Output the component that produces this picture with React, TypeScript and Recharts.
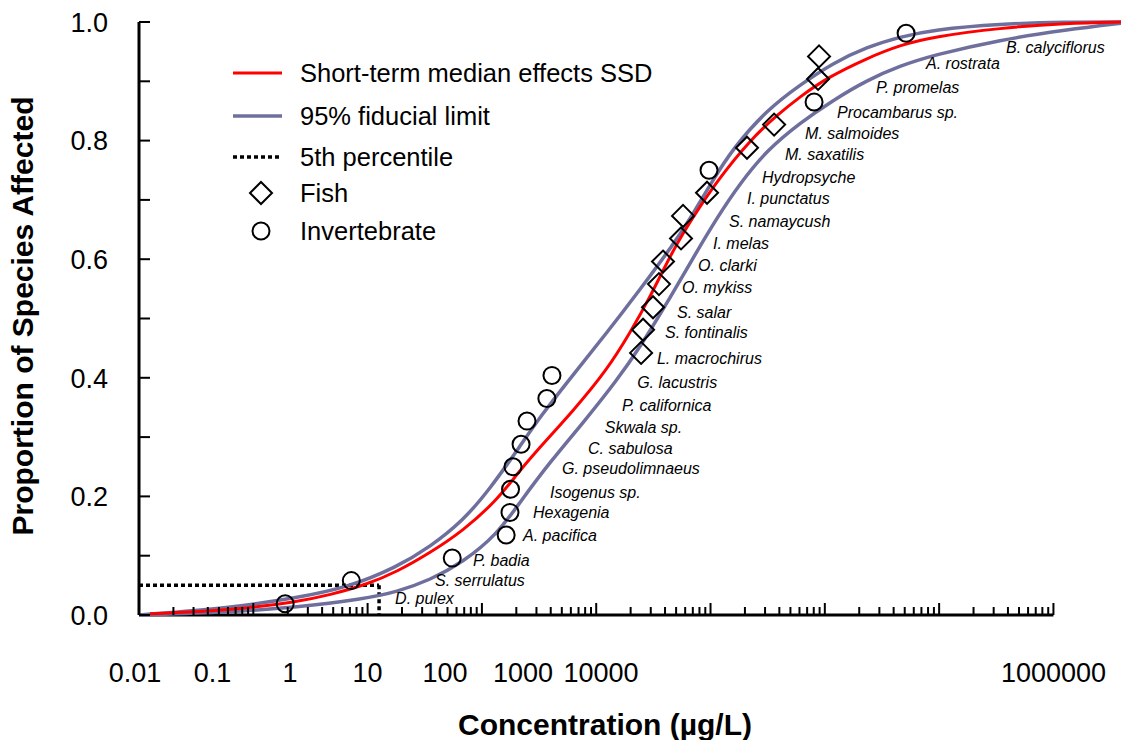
import React from 'react';
import {
  ComposedChart,
  Line,
  Scatter,
  XAxis,
  YAxis,
  ReferenceLine,
  Legend,
  Label,
} from 'recharts';

// ---- data (concentration in µg/L, proportion of species affected) ----
const medianCurve = [
  { conc: 0.0125, p: 0.002 }, { conc: 0.0625, p: 0.008 }, { conc: 0.241, p: 0.022 },
  { conc: 0.469, p: 0.034 }, { conc: 0.969, p: 0.051 }, { conc: 1.81, p: 0.073 },
  { conc: 3.52, p: 0.105 }, { conc: 6.84, p: 0.142 }, { conc: 13.6, p: 0.194 },
  { conc: 20.3, p: 0.238 }, { conc: 32.2, p: 0.283 }, { conc: 62.7, p: 0.344 },
  { conc: 124, p: 0.413 }, { conc: 198, p: 0.476 }, { conc: 296, p: 0.536 },
  { conc: 470, p: 0.616 }, { conc: 703, p: 0.671 }, { conc: 1140, p: 0.732 },
  { conc: 2218, p: 0.801 }, { conc: 3819, p: 0.843 }, { conc: 6067, p: 0.874 },
  { conc: 10450, p: 0.906 }, { conc: 23390, p: 0.939 }, { conc: 45500, p: 0.961 },
  { conc: 88500, p: 0.975 }, { conc: 341000, p: 0.99 }, { conc: 1315000, p: 0.998 },
  { conc: 3900000, p: 1.0 },
];

const upperLimit = [
  { conc: 0.01, p: 0 }, { conc: 0.0625, p: 0.012 }, { conc: 0.241, p: 0.029 },
  { conc: 0.661, p: 0.046 }, { conc: 1.81, p: 0.081 }, { conc: 3.52, p: 0.115 },
  { conc: 6.84, p: 0.159 }, { conc: 11.8, p: 0.213 }, { conc: 22.0, p: 0.287 },
  { conc: 32.2, p: 0.334 }, { conc: 62.7, p: 0.405 }, { conc: 124, p: 0.476 },
  { conc: 242, p: 0.549 }, { conc: 470, p: 0.624 }, { conc: 703, p: 0.676 },
  { conc: 1031, p: 0.731 }, { conc: 1574, p: 0.787 }, { conc: 3122, p: 0.852 },
  { conc: 6067, p: 0.894 }, { conc: 11800, p: 0.931 }, { conc: 23390, p: 0.958 },
  { conc: 45500, p: 0.975 }, { conc: 88500, p: 0.987 }, { conc: 341000, p: 0.997 },
  { conc: 1315000, p: 1.0 }, { conc: 3900000, p: 1.0 },
];

const lowerLimit = [
  { conc: 0.01, p: 0 }, { conc: 0.0625, p: 0.005 }, { conc: 0.241, p: 0.013 },
  { conc: 0.912, p: 0.027 }, { conc: 1.81, p: 0.039 }, { conc: 3.52, p: 0.059 },
  { conc: 6.84, p: 0.089 }, { conc: 13.6, p: 0.136 }, { conc: 21.5, p: 0.19 },
  { conc: 39.4, p: 0.258 }, { conc: 76.7, p: 0.324 }, { conc: 152, p: 0.396 },
  { conc: 242, p: 0.452 }, { conc: 416, p: 0.526 }, { conc: 703, p: 0.602 },
  { conc: 1140, p: 0.67 }, { conc: 1813, p: 0.728 }, { conc: 3122, p: 0.784 },
  { conc: 6067, p: 0.83 }, { conc: 11800, p: 0.868 }, { conc: 23390, p: 0.902 },
  { conc: 45500, p: 0.926 }, { conc: 88500, p: 0.944 }, { conc: 341000, p: 0.97 },
  { conc: 1315000, p: 0.987 }, { conc: 3900000, p: 0.998 },
];

const fishPoints = [
  { species: 'L. macrochirus', conc: 247, p: 0.442 },
  { species: 'S. fontinalis', conc: 257, p: 0.481 },
  { species: 'S. salar', conc: 314, p: 0.519 },
  { species: 'O. mykiss', conc: 354, p: 0.558 },
  { species: 'O. clarki', conc: 384, p: 0.596 },
  { species: 'I. melas', conc: 552, p: 0.635 },
  { species: 'S. namaycush', conc: 575, p: 0.673 },
  { species: 'I. punctatus', conc: 932, p: 0.712 },
  { species: 'M. saxatilis', conc: 2085, p: 0.788 },
  { species: 'M. salmoides', conc: 3600, p: 0.827 },
  { species: 'P. promelas', conc: 8730, p: 0.904 },
  { species: 'A. rostrata', conc: 8900, p: 0.942 },
];

const invertebratePoints = [
  { species: 'D. pulex', conc: 0.19, p: 0.019 },
  { species: 'S. serrulatus', conc: 0.72, p: 0.058 },
  { species: 'P. badia', conc: 5.5, p: 0.096 },
  { species: 'A. pacifica', conc: 16.3, p: 0.135 },
  { species: 'Hexagenia', conc: 17.6, p: 0.173 },
  { species: 'Isogenus sp.', conc: 17.8, p: 0.212 },
  { species: 'G. pseudolimnaeus', conc: 18.7, p: 0.25 },
  { species: 'C. sabulosa', conc: 22, p: 0.288 },
  { species: 'Skwala sp.', conc: 24.8, p: 0.327 },
  { species: 'P. californica', conc: 37, p: 0.365 },
  { species: 'G. lacustris', conc: 41, p: 0.404 },
  { species: 'Hydropsyche', conc: 970, p: 0.75 },
  { species: 'Procambarus sp.', conc: 8050, p: 0.865 },
  { species: 'B. calyciflorus', conc: 51400, p: 0.981 },
];

// where each species name is written (left edge of the text)
const speciesLabels = [
  { species: 'D. pulex', conc: 1.74, p: 0.029 },
  { species: 'S. serrulatus', conc: 3.89, p: 0.059 },
  { species: 'P. badia', conc: 8.36, p: 0.093 },
  { species: 'A. pacifica', conc: 22.9, p: 0.135 },
  { species: 'Hexagenia', conc: 28.0, p: 0.174 },
  { species: 'Isogenus sp.', conc: 39.4, p: 0.207 },
  { species: 'G. pseudolimnaeus', conc: 50.2, p: 0.248 },
  { species: 'C. sabulosa', conc: 84.8, p: 0.282 },
  { species: 'Skwala sp.', conc: 119, p: 0.317 },
  { species: 'P. californica', conc: 168, p: 0.354 },
  { species: 'G. lacustris', conc: 228, p: 0.393 },
  { species: 'L. macrochirus', conc: 340, p: 0.433 },
  { species: 'S. fontinalis', conc: 400, p: 0.476 },
  { species: 'S. salar', conc: 509, p: 0.511 },
  { species: 'O. mykiss', conc: 563, p: 0.553 },
  { species: 'O. clarki', conc: 778, p: 0.589 },
  { species: 'I. melas', conc: 1052, p: 0.627 },
  { species: 'S. namaycush', conc: 1452, p: 0.664 },
  { species: 'I. punctatus', conc: 2085, p: 0.702 },
  { species: 'Hydropsyche', conc: 2823, p: 0.739 },
  { species: 'M. saxatilis', conc: 4487, p: 0.777 },
  { species: 'M. salmoides', conc: 6714, p: 0.813 },
  { species: 'Procambarus sp.', conc: 12790, p: 0.848 },
  { species: 'P. promelas', conc: 28050, p: 0.89 },
  { species: 'A. rostrata', conc: 76740, p: 0.931 },
  { species: 'B. calyciflorus', conc: 384600, p: 0.958 },
];

const hc5 = 1.26;
const p5 = 0.05;

// tick labels as printed on the original (not on their decades)
const tickLabels = ['0.01', '0.1', '1', '10', '100', '1000', '10000', '1000000'];
const tickLabelAt = [0.01, 0.044, 0.21, 1, 4.75, 22.9, 110, 1000000];
const yTicks = [0, 0.1, 0.2, 0.3, 0.4, 0.5, 0.6, 0.7, 0.8, 0.9, 1.0];

const minorTicks: number[] = [];
for (let d = -2; d <= 5; d++) {
  for (let k = 2; k <= 10; k++) minorTicks.push(Number((k * Math.pow(10, d)).toPrecision(6)));
}
const minorSet = new Set(minorTicks);
const xTicks = Array.from(new Set([...minorTicks, ...tickLabelAt])).sort((a, b) => a - b);

const FONT = '"Liberation Sans", Arial, Helvetica, sans-serif';
const RED = '#ff0000';
const PURPLE = '#6f6f9e';

function ConcTick({ x, y, payload }: any) {
  const v = payload.value;
  const li = tickLabelAt.indexOf(v);
  const mark = minorSet.has(v);
  const lg = Math.log10(v);
  const major = mark && Math.abs(lg - Math.round(lg)) < 1e-6;
  return (
    <g>
      {mark && <line x1={x} x2={x} y1={y} y2={y - (major ? 12 : 8)} stroke="#000" strokeWidth={2} />}
      {li >= 0 && (
        <text x={li === 0 ? x - 4 : x} y={y + 67} textAnchor="middle" fontSize={27} fontFamily={FONT} fill="#000">
          {tickLabels[li]}
        </text>
      )}
    </g>
  );
}

function PropTick({ x, y, payload, index }: any) {
  return (
    <g>
      <line x1={x} x2={x + 11} y1={y} y2={y} stroke="#000" strokeWidth={2} />
      {index % 2 === 0 && (
        <text x={x - 31} y={y} dy="0.36em" textAnchor="end" fontSize={27} fontFamily={FONT} fill="#000">
          {payload.value.toFixed(1)}
        </text>
      )}
    </g>
  );
}

const Diamond = ({ cx, cy }: any) => (
  <path d={`M${cx},${cy - 11}L${cx + 11},${cy}L${cx},${cy + 11}L${cx - 11},${cy}Z`} fill="none" stroke="#000" strokeWidth={2} />
);
const Ring = ({ cx, cy }: any) => <circle cx={cx} cy={cy} r={8.5} fill="none" stroke="#000" strokeWidth={2} />;
const SpeciesName = ({ cx, cy, payload }: any) => (
  <text x={cx} y={cy} dy="0.36em" fontSize={16} fontStyle="italic" fontFamily={FONT} fill="#000">
    {payload.species}
  </text>
);

const legendItems = [
  { label: 'Short-term median effects SSD', kind: 'line', color: RED, dy: 0 },
  { label: '95% fiducial limit', kind: 'line', color: PURPLE, dy: 43 },
  { label: '5th percentile', kind: 'dash', color: '#000', dy: 84 },
  { label: 'Fish', kind: 'diamond', color: '#000', dy: 120 },
  { label: 'Invertebrate', kind: 'circle', color: '#000', dy: 158 },
];

const LegendBox = () => (
  <svg width={460} height={190}>
    {legendItems.map((it) => {
      const y = 18 + it.dy;
      return (
        <g key={it.label}>
          {it.kind === 'line' && <line x1={8} x2={57} y1={y} y2={y} stroke={it.color} strokeWidth={it.color === RED ? 3 : 3.5} />}
          {it.kind === 'dash' && <line x1={8} x2={57} y1={y} y2={y} stroke="#000" strokeWidth={3.5} strokeDasharray="4 3" />}
          {it.kind === 'diamond' && <Diamond cx={36} cy={y} />}
          {it.kind === 'circle' && <Ring cx={36} cy={y} />}
          <text x={75} y={y} dy="0.36em" fontSize={25.5} fontFamily={FONT} fill="#000">{it.label}</text>
        </g>
      );
    })}
  </svg>
);

export default function App() {
  return (
    <div style={{ position: 'absolute', left: 0, top: 0, width: 1121, height: 740, background: '#fff' }}>
      <ComposedChart width={1121} height={740} margin={{ top: 22, right: 0, bottom: 0, left: 0 }}>
        <XAxis
          dataKey="conc"
          type="number"
          scale="log"
          domain={[0.01, 3900000]}
          allowDataOverflow
          ticks={xTicks}
          interval={0}
          height={125}
          axisLine={false}
          tickLine={false}
          tickSize={0}
          tickMargin={0}
          tick={<ConcTick />}
        >
          <Label
            content={() => (
              <text x={605} y={735} textAnchor="middle" fontSize={30} fontWeight="bold" fontFamily={FONT} fill="#000">
                Concentration (µg/L)
              </text>
            )}
          />
        </XAxis>
        <YAxis
          type="number"
          domain={[0, 1]}
          ticks={yTicks}
          interval={0}
          width={139}
          axisLine={{ stroke: '#000', strokeWidth: 3 }}
          tickLine={false}
          tickSize={0}
          tickMargin={0}
          tick={<PropTick />}
        >
          <Label
            content={() => (
              <text
                x={22}
                y={316}
                transform="rotate(-90 22 316)"
                textAnchor="middle"
                dominantBaseline="central"
                fontSize={30}
                fontWeight="bold"
                fontFamily={FONT}
                fill="#000"
              >
                Proportion of Species Affected
              </text>
            )}
          />
        </YAxis>
        <Legend
          layout="horizontal"
          verticalAlign="middle"
          align="center"
          content={() => <LegendBox />}
          wrapperStyle={{ left: 225, top: 55, width: 460, height: 190 }}
        />
        <ReferenceLine segment={[{ x: 0.01, y: 0 }, { x: 1000000, y: 0 }]} stroke="#000" strokeWidth={3} />
        <ReferenceLine segment={[{ x: 0.01, y: p5 }, { x: hc5, y: p5 }]} stroke="#000" strokeWidth={3.5} strokeDasharray="4 3" />
        <ReferenceLine segment={[{ x: hc5, y: p5 }, { x: hc5, y: 0 }]} stroke="#000" strokeWidth={3.5} strokeDasharray="4 3" />
        <Line data={upperLimit} dataKey="p" type="basis" stroke={PURPLE} strokeWidth={3.5} dot={false} isAnimationActive={false} />
        <Line data={lowerLimit} dataKey="p" type="basis" stroke={PURPLE} strokeWidth={3.5} dot={false} isAnimationActive={false} />
        <Line data={medianCurve} dataKey="p" type="basis" stroke={RED} strokeWidth={3} dot={false} isAnimationActive={false} />
        <Scatter data={fishPoints} dataKey="p" shape={<Diamond />} isAnimationActive={false} />
        <Scatter data={invertebratePoints} dataKey="p" shape={<Ring />} isAnimationActive={false} />
        <Scatter data={speciesLabels} dataKey="p" shape={<SpeciesName />} isAnimationActive={false} />
      </ComposedChart>
    </div>
  );
}
